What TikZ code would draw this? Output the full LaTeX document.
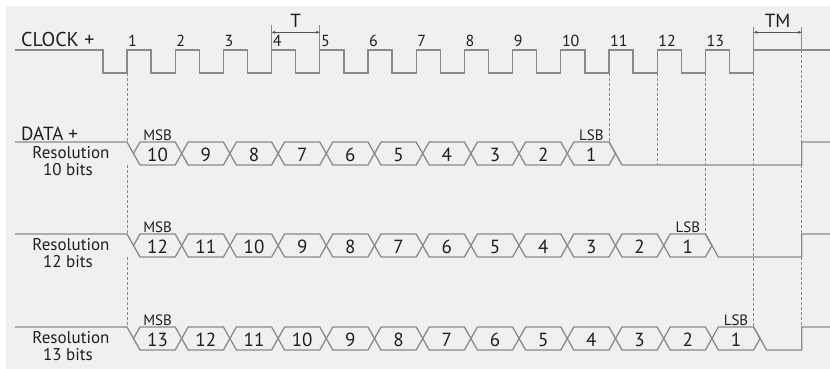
\documentclass[tikz,border=0pt]{standalone}
\usepackage{fontspec}
\setmainfont{PT Sans}
\usetikzlibrary{arrows.meta}
\definecolor{bg}{HTML}{F0F0F0}
\definecolor{ln}{HTML}{8A8A8A}
\definecolor{tx}{HTML}{1E1E1E}
\definecolor{ar}{HTML}{555555}
\tikzset{
  sig/.style={draw=ln, line width=1.3pt, line join=miter},
  dsh/.style={draw=ln, line width=0.9pt, dash pattern=on 3pt off 2pt},
  arr/.style={draw=ar, line width=0.6pt, {Stealth[length=4pt,width=3pt]}-{Stealth[length=4pt,width=3pt]}},
  txt/.style={text=tx, inner sep=0pt},
  big/.style={txt, font=\fontsize{20}{22}\selectfont},
  dig/.style={txt, anchor=base, font=\fontsize{19}{21}\selectfont},
  cnum/.style={txt, anchor=base west, font=\fontsize{16}{18}\selectfont},
  res/.style={txt, anchor=base, font=\fontsize{17}{19}\selectfont},
  sb/.style={txt, anchor=base, font=\fontsize{15}{17}\selectfont}
}
\newcommand\myrow[3]{% #1 row name, #2 top y, #3 number of bits
  \pgfmathsetmacro\rT{#2}
  \pgfmathsetmacro\rB{#2+23}
  \pgfmathsetmacro\rM{#2+11.5}
  \draw[sig] (15,\rT) -- (127,\rT) -- (133.5,\rM);
  \foreach \i in {1,...,#3}{
    \pgfmathsetmacro\a{127+48.2*(\i-1)}
    \pgfmathsetmacro\b{127+48.2*\i}
    \pgfmathtruncatemacro\v{#3+1-\i}
    \draw[sig] (\a+6.5,\rM) -- (\a+13,\rT) -- (\b,\rT) -- (\b+6.5,\rM) -- (\b,\rB) -- (\a+13,\rB) -- cycle;
    \node[dig] (#1d\i) at (\a+30.6,\rT+19.7) {\v};
  }
  \pgfmathsetmacro\e{127+48.2*#3}
  \draw[sig] (\e,\rT) -- (\e+13,\rB) -- (801.8,\rB) -- (801.8,\rT) -- (830,\rT);
  \node[sb] (#1msb) at (157.6,\rT-2) {MSB};
  \node[sb] (#1lsb) at (\e-17.6,\rT-2) {LSB};
  \node[res] (#1res) at (71,\rT+16.5) {Resolution};
  \node[res] (#1bits) at (68,\rT+33.5) {#3 bits};
}
\begin{document}
\begin{tikzpicture}[x=1pt,y=-1pt]
\useasboundingbox (0,0) rectangle (830,369);
\fill[white] (0,0) rectangle (830,369);
\fill[bg] (6,6) rectangle (830,369);

% clock
\draw[sig] (15,50) -- (102.9,50) -- (102.9,73)
  \foreach \k in {1,...,13}{ -- ({127+48.2*(\k-1)},73) -- ({127+48.2*(\k-1)},50) -- ({151.1+48.2*(\k-1)},50) -- ({151.1+48.2*(\k-1)},73) }
  -- (753.6,73) -- (753.6,50) -- (830,50);
\foreach \k in {1,...,13}{
  \node[cnum] (c\k) at ({128+48.2*(\k-1)},47) {\k};
}
\node[big, anchor=base west] (clk) at (21,46.7) {CLOCK +};
\node[big, anchor=base west, font=\fontsize{19}{21}\selectfont] (dat) at (21,140) {DATA +};

% T and TM markers
\coordinate (t1) at (271.6,25); \coordinate (t1b) at (271.6,50);
\coordinate (t2) at (319.8,25); \coordinate (t2b) at (319.8,50);
\draw[sig] (t1) -- (t1b); \draw[sig] (t2) -- (t2b);
\coordinate (ta) at (271.6,32.3); \coordinate (tb) at (319.8,32.3);
\draw[arr] (ta) -- (tb);
\node[dig] (T) at (295.7,28) {T};
\coordinate (m1) at (753.6,27); \coordinate (m1b) at (753.6,50);
\coordinate (m2) at (801.8,27); \coordinate (m2b) at (801.8,50);
\draw[sig] (m1) -- (m1b); \draw[sig] (m2) -- (m2b);
\coordinate (ma) at (753.6,32.3); \coordinate (mb) at (801.8,32.3);
\draw[arr] (ma) -- (mb);
\node[dig] (TM) at (777.7,28) {TM};

% data rows
\myrow{ra}{142}{10}
\myrow{rb}{234}{12}
\myrow{rc}{327}{13}

% dashed guides
\draw[dsh] (127,73) -- (127,142) (127,165) -- (127,234) (127,257) -- (127,327);
\draw[dsh] (609,73) -- (609,142);
\draw[dsh] (657.2,73) -- (657.2,165);
\draw[dsh] (705.4,73) -- (705.4,234);
\draw[dsh] (753.6,73) -- (753.6,327);
\draw[dsh] (801.8,50) -- (801.8,142) (801.8,165) -- (801.8,234) (801.8,257) -- (801.8,327);
\end{tikzpicture}
\end{document}
